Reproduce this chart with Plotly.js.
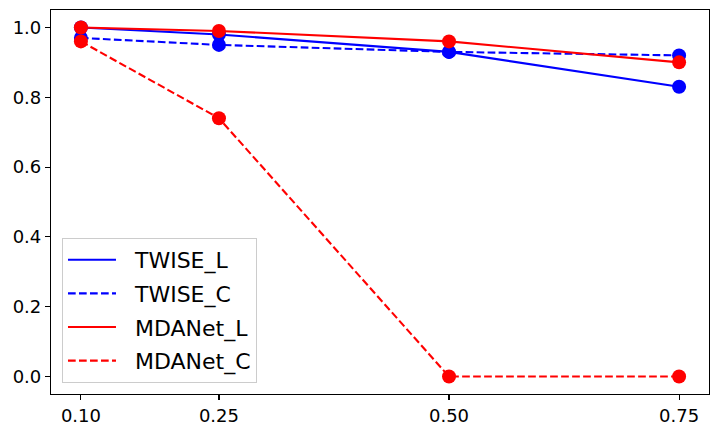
<!DOCTYPE html>
<html><head><meta charset="utf-8">
<script src="https://cdn.plot.ly/plotly-3.0.1.min.js"></script>
<style>html,body{margin:0;padding:0;background:#fff}</style>
</head><body>
<div id="chart" style="width:719px;height:433px"></div>
<script>
const xValues = [0.10, 0.25, 0.50, 0.75];
const xTickLabels = ["0.10", "0.25", "0.50", "0.75"];
const seriesNames = ["TWISE_L", "TWISE_C", "MDANet_L", "MDANet_C"];
const twiseL = [1.00, 0.98, 0.93, 0.83];
const twiseC = [0.97, 0.95, 0.93, 0.92];
const mdanetL = [1.00, 0.99, 0.96, 0.90];
const mdanetC = [0.96, 0.74, 0.00, 0.00];

const seriesValues = [twiseL, twiseC, mdanetL, mdanetC];
const colors = ["#0000ff", "#0000ff", "#ff0000", "#ff0000"];
const dashes = ["solid", "7.7px,3.3px", "solid", "7.7px,3.3px"];

const traces = [];
seriesValues.forEach((vals, i) => {
  traces.push({
    x: xValues, y: vals, name: "\u00a0\u00a0" + seriesNames[i], type: "scatter", mode: "lines",
    line: {color: colors[i], width: 2.1, dash: dashes[i]},
    legendgroup: "g" + i, showlegend: true, hoverinfo: "skip"
  });
  traces.push({
    x: xValues, y: vals, name: seriesNames[i], type: "scatter", mode: "markers",
    marker: {color: colors[i], size: 14},
    legendgroup: "g" + i, showlegend: false, hoverinfo: "skip"
  });
});

const axisCommon = {
  showline: true, linecolor: "#000", linewidth: 1.1, mirror: true,
  ticks: "outside", ticklen: 5, tickwidth: 1.1, tickcolor: "#000",
  showgrid: false, zeroline: false,
  tickfont: {family: "DejaVu Sans", size: 18, color: "#000"}
};

const layout = {
  width: 719, height: 433,
  margin: {l: 51, r: 9.5, t: 9.5, b: 39},
  paper_bgcolor: "#fff", plot_bgcolor: "#fff",
  font: {family: "DejaVu Sans", color: "#000"},
  xaxis: Object.assign({}, axisCommon, {
    range: [0.0675, 0.7825], tickmode: "array", tickvals: xValues, ticktext: xTickLabels
  }),
  yaxis: Object.assign({}, axisCommon, {
    range: [-0.05, 1.05], tickmode: "array",
    tickvals: [0, 0.2, 0.4, 0.6, 0.8, 1.0], ticktext: ["0.0", "0.2", "0.4", "0.6", "0.8", "1.0"]
  }),
  legend: {
    x: 0.0167, y: 0.0286, xanchor: "left", yanchor: "bottom",
    bgcolor: "rgba(255,255,255,0.8)", bordercolor: "#cccccc", borderwidth: 1,
    font: {family: "DejaVu Sans", size: 22, color: "#000"},
    traceorder: "grouped", tracegroupgap: 2, itemwidth: 48
  },
  showlegend: true
};

Plotly.newPlot("chart", traces, layout, {staticPlot: true, displayModeBar: false});
</script>
</body></html>
